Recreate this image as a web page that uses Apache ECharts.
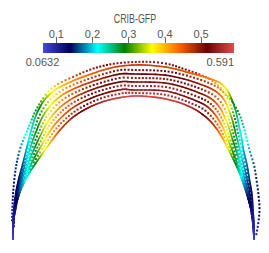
<!DOCTYPE html>
<html><head><meta charset="utf-8">
<script src="https://cdn.jsdelivr.net/npm/echarts@6/dist/echarts.min.js"></script>
<style>html,body{margin:0;padding:0;background:#fff}#c{width:269px;height:253px}</style>
</head><body><div id="c"></div>
<script>
// ---- data ----
const scalarTitle = 'CRIB-GFP';
const scalarMin = 0.0632, scalarMax = 0.591;
const colorStops = ['#4747db','#00005b','#00ffff','#008000','#ffff00','#ff6100','#6b0000','#e04d4d'];
const majorTicks = [0.1, 0.2, 0.3, 0.4, 0.5];
const minorTicks = [0.0649, 0.0814, 0.0908, 0.1275, 0.1366, 0.146, 0.226, 0.240, 0.249, 0.276, 0.312, 0.341, 0.440, 0.451, 0.525, 0.552, 0.577];

// each point: [x, y, CRIB-GFP value]
const curve0Dotted = [[12,222,0.1],[12.5,205,0.12],[13.5,188,0.14],[15.5,170,0.15],[18,157,0.16],[21,146,0.18],[25,136,0.21],[30,124,0.24],[35,112,0.28],[42,100,0.32],[50,90,0.37],[60,83,0.42],[75,76,0.47],[92,69,0.5],[112,64,0.53],[134,62,0.54],[152,62,0.54],[168,64,0.53],[184,69,0.51],[201,75,0.47],[214,82,0.42],[224,92,0.37],[233,103,0.31],[240,116,0.27],[245,132,0.23],[249.5,150,0.19],[254,165,0.16],[256.5,180,0.15],[258.5,195,0.14],[259.5,210,0.13],[258,225,0.11],[256,236,0.1]];
const curve1Solid = [[13,239,0.07],[13,225,0.09],[14,208,0.11],[16,192,0.13],[19,178,0.14],[23,163,0.16],[27,147,0.19],[31,131,0.23],[35,118,0.25],[40,107,0.29],[46,98,0.33],[55,90,0.37],[66,84,0.4],[80,78,0.43],[97,72,0.45],[115,67,0.46],[134,65,0.47],[152,65.5,0.47],[171,68,0.46],[190,73,0.45],[208,78,0.43],[220,83,0.4],[227,90,0.36],[232,100,0.3],[236,112,0.26],[239,126,0.23],[241.5,138,0.21],[243.5,150,0.19],[247,165,0.17],[249.5,180,0.15],[252,195,0.13],[253,210,0.11],[254,225,0.09],[254,239,0.07]];
const curve2Dotted = [[13.5,228,0.09],[14,214,0.11],[16.3,192.8,0.13],[23.9,164.1,0.17],[32.8,133.4,0.25],[42.5,109.9,0.31],[58,92.9,0.39],[82.8,81,0.46],[115.9,70.8,0.51],[134,70,0.53],[170.4,71.9,0.52],[206.5,82,0.48],[224.5,93.5,0.41],[233.5,114,0.31],[239.2,138.1,0.24],[245.1,164.1,0.18],[250.8,193.1,0.14],[253.6,223.1,0.1],[254,231,0.09]];
const curve3Solid = [[13,239,0.07],[13.5,222,0.1],[16.5,193.5,0.13],[24.8,165.3,0.18],[34.5,135.8,0.27],[45,112.8,0.33],[61,95.9,0.41],[85.5,84,0.47],[116.8,74.6,0.51],[134,74,0.52],[169.8,75.8,0.52],[205,86,0.49],[222,97,0.43],[231,116,0.33],[236.9,138.3,0.26],[243.3,163.3,0.19],[249.5,191.3,0.14],[253.3,221.3,0.1],[254,239,0.07]];
const curve4Dotted = [[13.5,228,0.09],[14,214,0.11],[16.8,194.3,0.13],[25.6,166.4,0.19],[36.3,138.1,0.29],[47.5,115.6,0.36],[64,98.8,0.43],[88.3,87,0.5],[117.6,78.4,0.53],[134,78,0.54],[169.1,79.6,0.53],[203.5,90,0.5],[219.5,100.5,0.44],[228.5,118,0.36],[234.6,138.4,0.29],[241.4,162.4,0.21],[248.3,189.4,0.15],[252.9,219.4,0.1],[253.5,230,0.09]];
const curve5Solid = [[13,239,0.07],[13.5,222,0.1],[17,195,0.135],[26.5,167.5,0.2],[38,140.5,0.3],[50,118.5,0.38],[67,101.8,0.44],[91,90,0.5],[118.5,82.2,0.52],[134,82,0.53],[168.5,83.5,0.53],[202,94,0.5],[217,104,0.45],[226,120,0.37],[232.3,138.5,0.31],[239.5,161.5,0.23],[247,187.5,0.16],[252.5,217.5,0.11],[254,239,0.07]];
const curve6Dotted = [[13.5,228,0.09],[14,214,0.11],[17.3,195.8,0.135],[27.4,168.6,0.21],[39.8,142.9,0.32],[52.5,121.4,0.4],[70,104.7,0.46],[93.8,93,0.52],[119.4,85.9,0.55],[134,86,0.55],[167.9,87.4,0.55],[200.5,98,0.52],[214.5,107.5,0.47],[223.5,122,0.4],[229.9,138.6,0.34],[237.6,160.6,0.25],[245.8,185.6,0.17],[252.1,215.6,0.11],[253.5,229,0.09]];
const curve7Solid = [[13,239,0.07],[13.5,222,0.1],[17.5,196.5,0.14],[28.3,169.8,0.22],[41.5,145.3,0.34],[55,124.3,0.42],[73,107.6,0.47],[96.5,96,0.52],[120.3,89.7,0.54],[134,90,0.54],[167.3,91.3,0.54],[199,102,0.52],[212,111,0.47],[221,124,0.41],[227.6,138.8,0.36],[235.8,159.8,0.27],[244.5,183.8,0.18],[251.8,213.8,0.11],[254,239,0.07]];
const curve8Dotted = [[13.5,228,0.09],[14,214,0.11],[17.8,197.3,0.14],[29.1,170.9,0.23],[43.3,147.6,0.36],[57.5,127.1,0.44],[76,110.6,0.49],[99.3,99,0.54],[121.1,93.5,0.56],[134,93,0.56],[166.6,95.1,0.56],[197.5,106,0.54],[209.5,114.5,0.49],[218.5,126,0.44],[225.3,138.9,0.39],[233.9,158.9,0.29],[243.3,181.9,0.19],[251.4,211.9,0.12],[253.5,228,0.1]];
const curve9Solid = [[13,239,0.07],[13.5,222,0.1],[15.5,210,0.12],[18,198,0.14],[22,187,0.18],[30,172,0.24],[40,157,0.32],[50,143,0.4],[60,130,0.46],[72,118,0.49],[86,109,0.53],[102,102,0.56],[118,98,0.58],[134,96,0.585],[150,96.7,0.585],[166,99,0.58],[182,103.5,0.57],[196,110,0.55],[207,118,0.5],[216,128,0.46],[223,139,0.41],[229,151,0.35],[236,165,0.28],[242,180,0.2],[247,195,0.15],[251,210,0.12],[253,225,0.1],[254,239,0.07]];

const curves = [
  {pts: curve0Dotted, dotted: true}, {pts: curve1Solid, dotted: false},
  {pts: curve2Dotted, dotted: true}, {pts: curve3Solid, dotted: false},
  {pts: curve4Dotted, dotted: true}, {pts: curve5Solid, dotted: false},
  {pts: curve6Dotted, dotted: true}, {pts: curve7Solid, dotted: false},
  {pts: curve8Dotted, dotted: true}, {pts: curve9Solid, dotted: false}
];

// ---- chart ----
const FONT = "'Liberation Sans', Arial, sans-serif";
const TXT = '#555';
const DOT = 2, DOT_GAP = 3.7, SUB = 8;
function colorAt(v) {
  const t = Math.max(0, Math.min(1, (v - scalarMin) / (scalarMax - scalarMin)));
  return echarts.color.lerp(t, colorStops);
}
function segData(pts) {
  const n = pts.length, out = [];
  for (let i = 0; i < n - 1; i++) {
    const a = pts[Math.max(0, i - 1)], b = pts[i], c = pts[i + 1], d = pts[Math.min(n - 1, i + 2)];
    out.push([a[0], a[1], b[0], b[1], c[0], c[1], d[0], d[1], b[2], c[2]]);
  }
  return out;
}
function cubicAt(p1, c1, c2, p2, t) {
  const u = 1 - t;
  return [
    u*u*u*p1[0] + 3*u*u*t*c1[0] + 3*u*t*t*c2[0] + t*t*t*p2[0],
    u*u*u*p1[1] + 3*u*u*t*c1[1] + 3*u*t*t*c2[1] + t*t*t*p2[1]
  ];
}
function makeSeries(curve) {
  return {
    type: 'custom', xAxisIndex: 0, yAxisIndex: 0, silent: true, clip: false,
    encode: {x: [0, 2, 4, 6], y: [1, 3, 5, 7]},
    data: segData(curve.pts),
    renderItem: function (params, api) {
      const p0 = api.coord([api.value(0), api.value(1)]);
      const p1 = api.coord([api.value(2), api.value(3)]);
      const p2 = api.coord([api.value(4), api.value(5)]);
      const p3 = api.coord([api.value(6), api.value(7)]);
      const v1 = api.value(8), v2 = api.value(9);
      const cp1 = [p1[0] + (p2[0] - p0[0]) / 6, p1[1] + (p2[1] - p0[1]) / 6];
      const cp2 = [p2[0] - (p3[0] - p1[0]) / 6, p2[1] - (p3[1] - p1[1]) / 6];
      const children = [];
      if (!curve.dotted) {
        let prev = p1;
        for (let i = 1; i <= SUB; i++) {
          const t = i / SUB, p = cubicAt(p1, cp1, cp2, p2, t);
          children.push({
            type: 'line',
            shape: {x1: prev[0], y1: prev[1], x2: p[0], y2: p[1]},
            style: {stroke: colorAt(v1 + (v2 - v1) * (t - 0.5 / SUB)), lineWidth: 1.6, lineCap: 'round'}
          });
          prev = p;
        }
        return {type: 'group', children: children};
      }
      const samples = [{t: 0, s: 0, p: p1}];
      let L = 0, prev = p1;
      for (let i = 1; i <= 24; i++) {
        const t = i / 24, p = cubicAt(p1, cp1, cp2, p2, t);
        L += Math.hypot(p[0] - prev[0], p[1] - prev[1]);
        samples.push({t: t, s: L, p: p});
        prev = p;
      }
      const n = Math.max(1, Math.round(L / DOT_GAP));
      const step = L / n;
      let k = 1;
      for (let j = 0; j < n; j++) {
        const s = (j + 0.5) * step;
        while (k < samples.length - 1 && samples[k].s < s) k++;
        const a = samples[k - 1], b = samples[k];
        const f = b.s > a.s ? (s - a.s) / (b.s - a.s) : 0;
        const x = a.p[0] + (b.p[0] - a.p[0]) * f;
        const y = a.p[1] + (b.p[1] - a.p[1]) * f;
        const t = a.t + (b.t - a.t) * f;
        children.push({
          type: 'rect',
          shape: {x: x - DOT / 2, y: y - DOT / 2, width: DOT, height: DOT},
          style: {fill: colorAt(v1 + (v2 - v1) * t)}
        });
      }
      return {type: 'group', children: children};
    }
  };
}
const colorbarSeries = {
  type: 'custom', xAxisIndex: 1, yAxisIndex: 1, silent: true,
  encode: {x: [0, 1]},
  data: [[scalarMin, scalarMax]],
  renderItem: function (params, api) {
    const a = api.coord([api.value(0), 0]);
    const b = api.coord([api.value(1), 1]);
    const stops = colorStops.map((c, i) => ({offset: i / (colorStops.length - 1), color: c}));
    return {
      type: 'rect',
      shape: {x: a[0], y: b[1], width: b[0] - a[0], height: a[1] - b[1]},
      style: {fill: new echarts.graphic.LinearGradient(0, 0, 1, 0, stops)}
    };
  }
};

const chart = echarts.init(document.getElementById('c'), null, {renderer: 'svg'});
chart.setOption({
  animation: false,
  backgroundColor: '#fff',
  grid: [
    {left: 0, right: 0, top: 0, bottom: 0},
    {left: 43, width: 191, top: 43, height: 10}
  ],
  xAxis: [
    {gridIndex: 0, type: 'value', min: 0, max: 269, show: false},
    {gridIndex: 1, type: 'value', min: scalarMin, max: scalarMax, position: 'top',
      axisLine: {show: false}, splitLine: {show: false}, axisLabel: {show: false},
      axisTick: {show: true, customValues: minorTicks, length: 4.5, lineStyle: {color: '#777', width: 1}}},
    {gridIndex: 1, type: 'value', min: scalarMin, max: scalarMax, position: 'top', offset: -2,
      axisLine: {show: false}, splitLine: {show: false},
      axisTick: {show: true, customValues: majorTicks, length: 7.3, lineStyle: {color: '#666', width: 1}},
      axisLabel: {show: true, customValues: majorTicks, formatter: v => v.toFixed(1), margin: 6,
        fontSize: 11, color: TXT, fontFamily: FONT}}
  ],
  yAxis: [
    {gridIndex: 0, type: 'value', min: 0, max: 253, inverse: true, show: false},
    {gridIndex: 1, type: 'value', min: 0, max: 1, show: false}
  ],
  graphic: [
    {type: 'text', x: 135, y: 18, scaleX: 0.74, silent: true,
      style: {text: scalarTitle, x: 0, y: 0, textAlign: 'center', textVerticalAlign: 'middle', fontSize: 12, fontFamily: FONT, fill: TXT}},
    {type: 'text', x: 42.5, y: 61.5, silent: true,
      style: {text: String(scalarMin), textAlign: 'center', textVerticalAlign: 'middle', fontSize: 11, fontFamily: FONT, fill: TXT}},
    {type: 'text', x: 234, y: 61.5, silent: true,
      style: {text: String(scalarMax), textAlign: 'right', textVerticalAlign: 'middle', fontSize: 11, fontFamily: FONT, fill: TXT}}
  ],
  series: [colorbarSeries].concat(curves.map(makeSeries))
});
</script></body></html>
